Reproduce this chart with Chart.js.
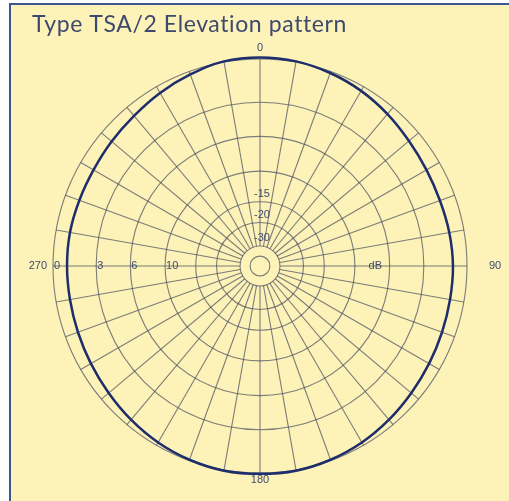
<!DOCTYPE html>
<html>
<head>
<meta charset="utf-8">
<script src="https://cdn.jsdelivr.net/npm/chart.js@4"></script>
<style>
html, body { margin: 0; padding: 0; background: #fff; }
#frame { position: absolute; left: 9px; top: 3px; width: 500px; height: 498px; background: #fdf2b8;
  border-left: 2px solid #3f5590; border-top: 2px solid #3f5590; }
canvas { position: absolute; left: 0; top: 0; }
</style>
</head>
<body>
<div id="frame"></div>
<canvas id="c" width="509" height="501"></canvas>
<script>
// angles in degrees, 0 = top, clockwise
var angles = [0, 10, 20, 30, 40, 50, 60, 70, 80, 90, 100, 110, 120, 130, 140, 150, 160, 170,
              180, 190, 200, 210, 220, 230, 240, 250, 260, 270, 280, 290, 300, 310, 320, 330, 340, 350];
// relative gain in dB
var gainDb = [0.1, 0.05, -0.1, -0.3, -0.55, -0.8, -0.95, -1.0, -0.95, -0.9, -0.9, -0.85, -0.75, -0.6, -0.4, -0.2, -0.05, 0.05,
              0.05, 0.05, -0.05, -0.2, -0.4, -0.6, -0.75, -0.85, -0.9, -0.9, -0.9, -0.95, -0.95, -0.85, -0.7, -0.45, -0.2, 0.05];
// dB rings
var ringDb = [0, -3, -6, -10, -15, -20];
var innerRings = [-30, -39];
var sideLabels = ["0", "3", "6", "10"];   // along the 270 axis
var upLabels = ["-15", "-20", "-30"];     // along the 0 axis
var upLabelDb = [-15, -20, -30];

var BG = "#fdf2b8";
var GRID = "rgba(62,70,92,0.68)";
var INK = "#3d4a6e";

// log-like radius mapping of the pattern paper
function toR(db) { return Math.exp(0.078 * db); }

var overlay = {
  id: "overlay",
  beforeDatasetsDraw: function (chart) {
    var s = chart.scales.r, ctx = chart.ctx;
    ctx.save();
    ctx.fillStyle = BG;
    ctx.beginPath();
    ctx.arc(s.xCenter, s.yCenter, s.getDistanceFromCenterForValue(toR(-30)), 0, 2 * Math.PI);
    ctx.fill();
    ctx.strokeStyle = GRID;
    ctx.lineWidth = 1.1;
    innerRings.forEach(function (d) {
      ctx.beginPath();
      ctx.arc(s.xCenter, s.yCenter, s.getDistanceFromCenterForValue(toR(d)), 0, 2 * Math.PI);
      ctx.stroke();
    });
    ctx.restore();
  },
  afterDraw: function (chart) {
    var s = chart.scales.r, ctx = chart.ctx;
    var R = s.drawingArea, cx = s.xCenter, cy = s.yCenter;
    ctx.save();
    ctx.fillStyle = INK;
    ctx.font = "11px 'Liberation Sans'";
    ctx.textBaseline = "middle";
    ctx.textAlign = "left";
    sideLabels.forEach(function (t, i) {
      ctx.fillText(t, cx - s.getDistanceFromCenterForValue(toR(ringDb[i])) + 1, cy);
    });
    ctx.textAlign = "center";
    upLabels.forEach(function (t, i) {
      ctx.fillText(t, cx + 2, cy - s.getDistanceFromCenterForValue(toR(upLabelDb[i])) - 8);
    });
    ctx.fillText("dB", cx + s.getDistanceFromCenterForValue(toR(-7.5)), cy);
    // angle labels
    ctx.fillText("0", cx, cy - R - 11);
    ctx.fillText("90", cx + R + 28, cy);
    ctx.fillText("180", cx, cy + R + 7);
    ctx.textAlign = "right";
    ctx.fillText("270", cx - R - 6, cy);
    // title
    ctx.textAlign = "left";
    ctx.font = "23px Lato";
    ctx.letterSpacing = "0.6px";
    ctx.fillText("Type TSA/2 Elevation pattern", 32, 25);
    ctx.restore();
  }
};

new Chart(document.getElementById("c").getContext("2d"), {
  type: "radar",
  data: {
    labels: angles,
    datasets: [{
      data: gainDb.map(toR),
      borderColor: "#1e2d6b",
      borderWidth: 2.5,
      fill: false,
      tension: 0.4,
      pointRadius: 0
    }]
  },
  options: {
    responsive: false,
    animation: false,
    layout: { padding: { left: 53, right: 42, top: 59, bottom: 28 } },
    plugins: { legend: { display: false }, tooltip: { enabled: false } },
    scales: {
      r: {
        min: 0,
        max: 1,
        ticks: { display: false },
        pointLabels: { display: false },
        grid: { circular: true, color: GRID, lineWidth: 1.1 },
        angleLines: { color: GRID, lineWidth: 1.1 },
        afterBuildTicks: function (scale) {
          scale.ticks = [{ value: 0 }].concat(ringDb.map(function (d) { return { value: toR(d) }; }));
        }
      }
    }
  },
  plugins: [overlay]
});
</script>
</body>
</html>
